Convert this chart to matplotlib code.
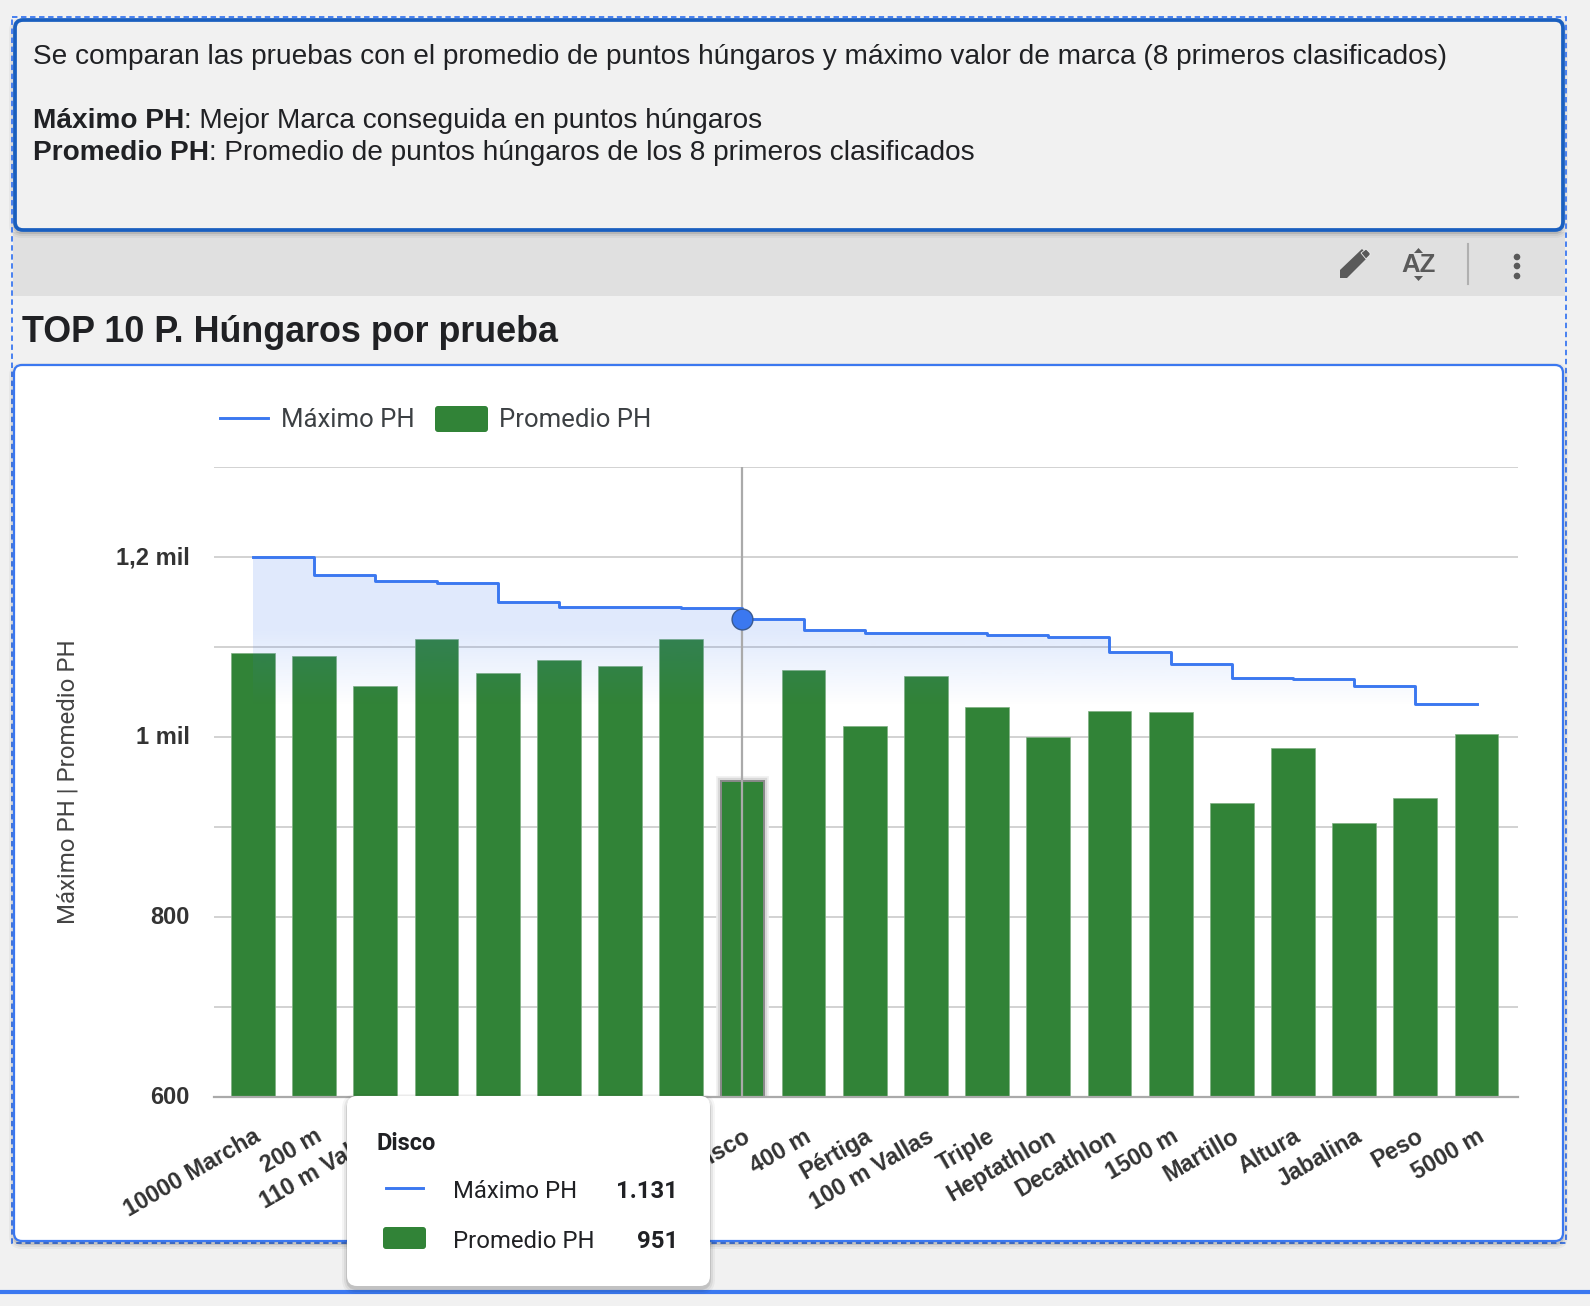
import numpy as np
import matplotlib
matplotlib.use("Agg")
import matplotlib.pyplot as plt
from matplotlib.patches import FancyBboxPatch, Rectangle, Polygon, Circle
from matplotlib.transforms import ScaledTranslation
import matplotlib.patheffects as pe

W, H = 1590, 1306

# hidden labels sit behind the tooltip in the original, so they stay empty
pruebas = ["10000 Marcha", "200 m", "110 m Vallas", "", "", "", "", "", "Disco", "400 m",
           "Pértiga", "100 m Vallas", "Triple", "Heptathlon", "Decathlon", "1500 m",
           "Martillo", "Altura", "Jabalina", "Peso", "5000 m"]
maximo_ph = [1200, 1180, 1173, 1171, 1150, 1145, 1144, 1143, 1131, 1119, 1116,
             1116, 1113, 1111, 1094, 1081, 1066, 1064, 1057, 1037, 1037]
promedio_ph = [1093, 1090, 1057, 1109, 1071, 1086, 1079, 1109, 951, 1075, 1012,
               1068, 1033, 1000, 1029, 1028, 927, 988, 904, 932, 1003]
y_labels = ["600", "800", "1 mil", "1,2 mil"]
y_major = [600, 800, 1000, 1200]
y_minor = [700, 900, 1100, 1300]
hover = 8

BLUE = "#3b78f0"
DARK_BLUE = "#1a5fbf"
GREEN = "#318337"
BG = "#f1f1f1"

fig = plt.figure(figsize=(W / 100, H / 100), dpi=100, facecolor=BG)


def px_axes(zorder):
    a = fig.add_axes([0, 0, 1, 1], zorder=zorder)
    a.set_xlim(0, W)
    a.set_ylim(H, 0)
    a.axis("off")
    a.patch.set_alpha(0)
    return a


def rbox(a, x0, y0, x1, y1, r, **kw):
    p = FancyBboxPatch((x0, y0), x1 - x0, y1 - y0, boxstyle=f"round,pad=0,rounding_size={r}", **kw)
    a.add_patch(p)
    return p


def shadow(a, x0, y0, x1, y1, r, off=3):
    for grow, al in [(5, 0.04), (3, 0.06), (1, 0.1)]:
        rbox(a, x0 - grow, y0 - grow + off, x1 + grow, y1 + grow + off, r + grow,
             facecolor="black", edgecolor="none", alpha=al)


# page background things
back = px_axes(0)
back.add_patch(Rectangle((13, 232), 1552, 64, facecolor="#e0e0e0", edgecolor="none"))
shadow(back, 14, 20, 1563, 230, 8)
rbox(back, 15, 20, 1563, 230, 8, facecolor=BG, edgecolor=DARK_BLUE, linewidth=2.7)
back.add_patch(Rectangle((12, 17), 1554, 1226, facecolor="none", edgecolor=BLUE,
                         linewidth=1.3, linestyle=(0, (3, 2))))
shadow(back, 14, 365, 1563, 1241, 8)
rbox(back, 14, 365, 1563, 1241, 8, facecolor="white", edgecolor=BLUE, linewidth=1.6)
back.plot([0, W], [1292, 1292], color=BLUE, lw=3, solid_capstyle="butt")

# header text, bold part then regular part
rend = fig.canvas.get_renderer()
TXT = "#202124"
sans = "Liberation Sans"
back.text(33, 57, "Se comparan las pruebas con el promedio de puntos húngaros y máximo valor de marca (8 primeros clasificados)",
          fontsize=20.15, family=sans, color=TXT, va="center")
for yy, bold, rest in [(121, "Máximo PH", ": Mejor Marca conseguida en puntos húngaros"),
                       (153, "Promedio PH", ": Promedio de puntos húngaros de los 8 primeros clasificados")]:
    t = back.text(33, yy, bold, fontsize=20.15, family=sans, weight="bold", color=TXT, va="center")
    x_end = t.get_window_extent(rend).x1
    back.text(x_end, yy, rest, fontsize=20.15, family=sans, color=TXT, va="center")
back.text(22, 332, "TOP 10 P. Húngaros por prueba", fontsize=25.8, family=sans, weight="bold",
          color=TXT, va="center")

# toolbar icons
ICON = "#5a5a5a"
back.add_patch(Polygon([(1340, 270), (1362, 249), (1369, 256), (1347, 278), (1340, 278)],
                       facecolor=ICON, edgecolor="none"))
back.add_patch(Polygon([(1361, 253), (1366, 249), (1370, 253), (1370, 255), (1366, 259)],
                       facecolor=ICON, edgecolor=BG, linewidth=0.6))
back.text(1418.5, 265, "AZ", fontsize=18.5, family=sans, weight="bold", color=ICON, ha="center", va="center")
back.add_patch(Polygon([(1414, 253), (1423, 253), (1418.5, 248)], facecolor=ICON))
back.add_patch(Polygon([(1414, 276), (1423, 276), (1418.5, 281)], facecolor=ICON))
back.plot([1468, 1468], [244, 284], color="#b0b0b0", lw=1.5)
for yy in (257, 266, 276):
    back.add_patch(Circle((1517, yy), 3.3, facecolor=ICON, edgecolor="none"))

# chart
x = np.arange(len(pruebas))
step_px = 61.2
x_left = -(253 - 214) / step_px
x_right = 20 + (1518 - 1476.5) / step_px
ax = fig.add_axes([214 / W, 1 - 1097 / H, (1518 - 214) / W, (1097 - 467) / H], zorder=1)
ax.patch.set_alpha(0)
ax.set_xlim(x_left, x_right)
ax.set_ylim(600, 1300)
ax.set_yticks(y_major, y_labels)
ax.set_yticks(y_minor, minor=True)
ax.grid(True, which="both", axis="y", color="#d2d2d2", lw=1.4)
ax.set_axisbelow(True)
for s in ("top", "left", "right"):
    ax.spines[s].set_visible(False)
ax.spines["bottom"].set_color("#aaaaaa")
ax.spines["bottom"].set_linewidth(1.6)
ax.tick_params(which="both", length=0)
ax.tick_params(axis="y", pad=17.5)
nudge_up = ScaledTranslation(0, 1.5 / 100, fig.dpi_scale_trans)
for lab in ax.get_yticklabels():
    lab.set(fontsize=17, family=sans, weight="bold", color="#333333")
    lab.set_transform(lab.get_transform() + nudge_up)
ax.set_xticks(x, pruebas, rotation=30, ha="right", rotation_mode="anchor")
ax.tick_params(axis="x", pad=20)
for lab in ax.get_xticklabels():
    lab.set(fontsize=16.8, family=sans, weight="bold", color="#333333")

bars = ax.bar(x, promedio_ph, width=0.715, color=GREEN, edgecolor="#7fb083", linewidth=0.5, zorder=2)
bars[hover].set_edgecolor("#8a8a8a")
bars[hover].set_linewidth(1.4)
bars[hover].set_path_effects([pe.withStroke(linewidth=7, foreground="#f0f0f0"),
                              pe.withStroke(linewidth=4.5, foreground="#d8d8d8"),
                              pe.Normal()])

# area under the line, fading out as a vertical gradient
fill = ax.fill_between(x, maximo_ph, 600, step="post", facecolor="none", edgecolor="none")
grad_y = np.linspace(1300, 600, 200)
rgba = np.zeros((200, 1, 4))
rgba[..., :3] = matplotlib.colors.to_rgb(BLUE)
rgba[:, 0, 3] = np.interp(grad_y, [1035, 1120], [0, 0.16])
im = ax.imshow(rgba, extent=(-1, 21, 600, 1300), aspect="auto", zorder=2.5, interpolation="bilinear")
ax.set_xlim(x_left, x_right)
ax.set_ylim(600, 1300)
im.set_clip_path(fill.get_paths()[0], transform=ax.transData)

ax.axvline(x[hover], color="#aaaaaa", lw=1.6, zorder=2.8)
ax.step(x, maximo_ph, where="post", color=BLUE, lw=2.1, zorder=3)
ax.plot(x[hover], maximo_ph[hover], "o", ms=15, mfc=BLUE, mec="#3a5a90", mew=1, zorder=4)

# overlay: legend, y title, tooltip
top = px_axes(5)
top.plot([220, 268], [418, 418], color=BLUE, lw=2.1)
top.text(281, 420, "Máximo PH", fontsize=18.5, family="Roboto", color="#3c4043", va="center")
rbox(top, 435, 406, 488, 432, 3, facecolor=GREEN, edgecolor="none")
top.text(499, 420, "Promedio PH", fontsize=18.5, family="Roboto", color="#3c4043", va="center")
top.text(68, 782, "Máximo PH | Promedio PH", fontsize=17.3, family="Roboto", color="#444444",
         rotation=90, ha="center", va="center")

shadow(top, 347, 1096, 710, 1286, 10)
rbox(top, 347, 1096, 710, 1286, 10, facecolor="white", edgecolor="none")
top.text(377, 1143, pruebas[hover], fontsize=17, family="Roboto", weight="bold", color=TXT, va="center")
top.plot([386, 423], [1188, 1188], color=BLUE, lw=2.1)
top.text(453, 1191, "Máximo PH", fontsize=17.2, family="Roboto", color=TXT, va="center")
top.text(678, 1191, f"{maximo_ph[hover]:,}".replace(",", "."), fontsize=17.2, family="Roboto",
         weight="bold", color=TXT, ha="right", va="center")
rbox(top, 383, 1227, 426, 1249, 3, facecolor=GREEN, edgecolor="none")
top.text(453, 1241, "Promedio PH", fontsize=17.2, family="Roboto", color=TXT, va="center")
top.text(678, 1241, str(promedio_ph[hover]), fontsize=17.2, family="Roboto", weight="bold",
         color=TXT, ha="right", va="center")

fig.savefig("out.png", dpi=100, facecolor=fig.get_facecolor())
